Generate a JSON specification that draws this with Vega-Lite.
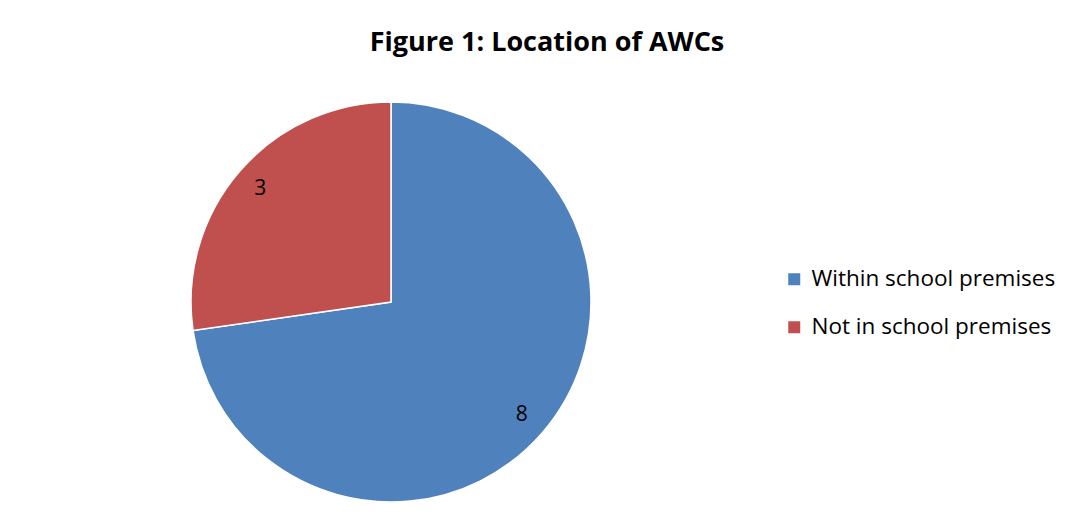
{
  "$schema": "https://vega.github.io/schema/vega-lite/v6.json",
  "autosize": {"type": "none"},
  "width": 400,
  "height": 400,
  "padding": {"left": 191, "top": 102, "right": 487, "bottom": 25},
  "background": "white",
  "title": {
    "text": "Figure 1: Location of AWCs",
    "font": "Open Sans",
    "fontSize": 27,
    "fontWeight": "bold",
    "color": "black",
    "anchor": "middle",
    "frame": "group",
    "dx": 156,
    "offset": 42
  },
  "data": {
    "values": [
      {"location": "Within school premises", "count": 8, "rank": 1},
      {"location": "Not in school premises", "count": 3, "rank": 2}
    ]
  },
  "encoding": {
    "theta": {"field": "count", "type": "quantitative", "stack": true},
    "order": {"field": "rank", "type": "quantitative"},
    "color": {
      "field": "location",
      "type": "nominal",
      "sort": ["Within school premises", "Not in school premises"],
      "scale": {"domain": ["Within school premises", "Not in school premises"], "range": ["#4F81BD", "#C0504D"]},
      "legend": {
        "title": null,
        "orient": "none",
        "legendX": 592,
        "legendY": 166,
        "symbolType": "square",
        "symbolSize": 144,
        "symbolStrokeWidth": 0,
        "labelFont": "Open Sans",
        "labelFontSize": 22.5,
        "labelColor": "black",
        "labelOffset": 6,
        "labelLimit": 0,
        "rowPadding": 25,
        "padding": 0
      }
    }
  },
  "layer": [
    {"mark": {"type": "arc", "stroke": "white", "strokeWidth": 1.5}},
    {
      "mark": {"type": "text", "radius": 173, "font": "Open Sans", "fontSize": 21, "color": "black"},
      "encoding": {"text": {"field": "count", "type": "quantitative"}, "color": {"value": "black"}}
    }
  ],
  "config": {"view": {"stroke": null}}
}
